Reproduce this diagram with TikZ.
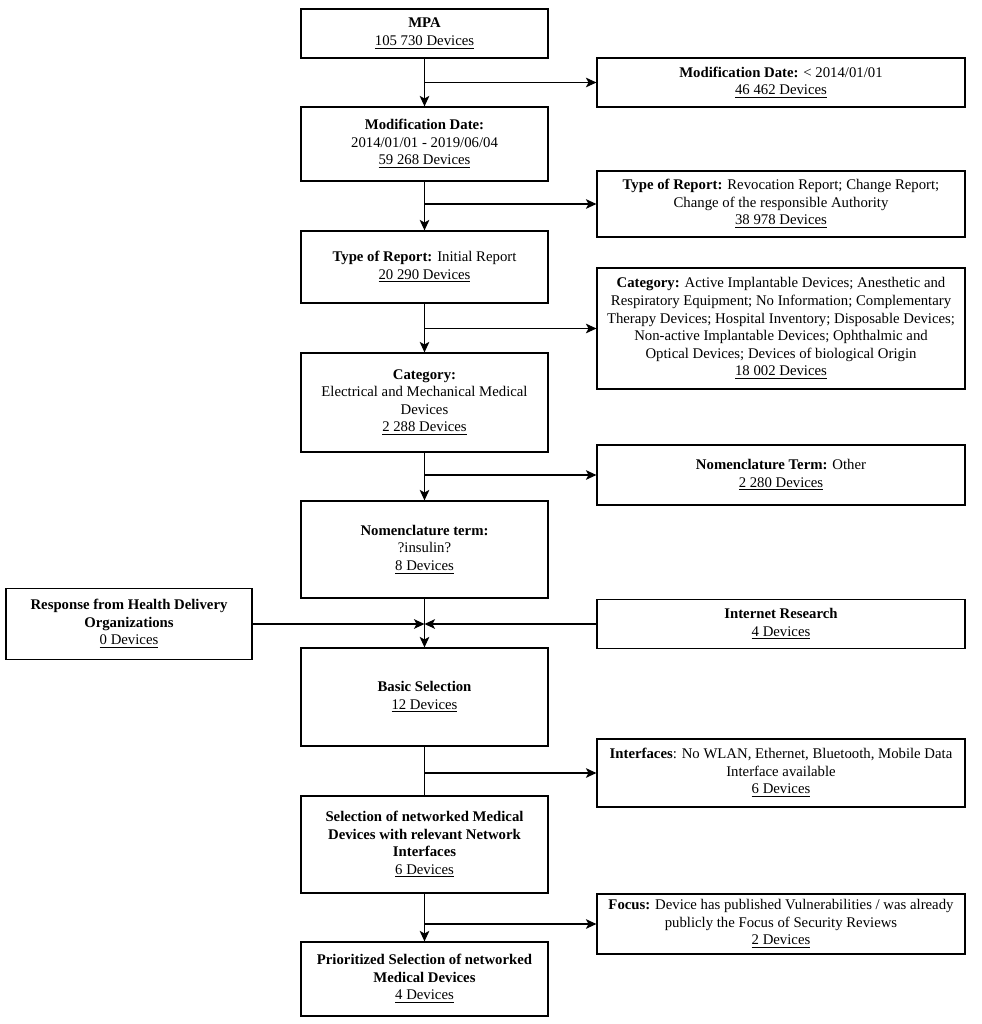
\documentclass[tikz,border=0pt]{standalone}
\usepackage{fontspec}
\setmainfont{Liberation Serif}
\usetikzlibrary{positioning, calc, arrows.meta}
\tikzset{
  box/.style={draw, line width=0.7pt, align=center, inner sep=0pt,
    font=\fontsize{8.4}{10}\selectfont},
  mainbox/.style={box, minimum width=4.94cm},
  sidebox/.style={box, minimum width=7.36cm},
  flow/.style={line width=0.7pt, -{Stealth[length=6pt, width=5.5pt, inset=1.5pt]}},
  plain/.style={line width=0.7pt}
}
\begin{document}
\begin{tikzpicture}[x=0.02cm, y=-0.02cm]
        \useasboundingbox (0,0) rectangle (982,1024);
        % nodes
        \node[mainbox, minimum height=0.98cm] (mpa)      at (424.5, 33.5) {\textbf{MPA}\\\underline{105 730 Devices}};
        \node[mainbox, minimum height=1.48cm] (moddate)  at (424.5, 144) {\textbf{Modification Date:}\\2014/01/01 - 2019/06/04\\\underline{59 268 Devices}};
        \node[mainbox, minimum height=1.44cm] (report)   at (424.5, 267) {\textbf{Type of Report:} Initial Report\\\underline{20 290 Devices}};
        \node[mainbox, minimum height=1.98cm] (category) at (424.5, 402.5) {\textbf{Category:}\\Electrical and Mechanical Medical\\Devices\\\underline{2 288 Devices}};
        \node[mainbox, minimum height=1.94cm] (nomen)    at (424.5, 549.5) {\textbf{Nomenclature term:}\\?insulin?\\\underline{8 Devices}};
        \node[mainbox, minimum height=1.96cm] (basic)    at (424.5, 697) {\textbf{Basic Selection}\\\underline{12 Devices}};
        \node[mainbox, minimum height=1.94cm] (netsel)   at (424.5, 844.5) {\textbf{Selection of networked Medical}\\\textbf{Devices with relevant Network}\\\textbf{Interfaces}\\\underline{6 Devices}};
        \node[mainbox, minimum height=1.48cm] (prio)     at (424.5, 979) {\textbf{Prioritized Selection of networked}\\\textbf{Medical Devices}\\\underline{4 Devices}};
        \node[sidebox, minimum height=0.98cm] (olddate)  at (781, 82.5) {\textbf{Modification Date:} < 2014/01/01\\\underline{46 462 Devices}};
        \node[sidebox, minimum height=1.32cm] (revoc)    at (781, 204) {\textbf{Type of Report:} Revocation Report; Change Report;\\Change of the responsible Authority\\\underline{38 978 Devices}};
        \node[sidebox, minimum height=2.42cm] (othercat) at (781, 328.5) {\textbf{Category:} Active Implantable Devices; Anesthetic and\\Respiratory Equipment; No Information; Complementary\\Therapy Devices; Hospital Inventory; Disposable Devices;\\Non-active Implantable Devices; Ophthalmic and\\Optical Devices; Devices of biological Origin\\\underline{18 002 Devices}};
        \node[sidebox, minimum height=1.2cm]  (othernom) at (781, 475) {\textbf{Nomenclature Term:} Other\\\underline{2 280 Devices}};
        \node[sidebox, minimum height=0.98cm] (internet) at (781, 624) {\textbf{Internet Research}\\\underline{4 Devices}};
        \node[sidebox, minimum height=1.36cm] (nointerf) at (781, 773) {\textbf{Interfaces}: No WLAN, Ethernet, Bluetooth, Mobile Data\\Interface available\\\underline{6 Devices}};
        \node[sidebox, minimum height=1.2cm]  (focus)    at (781, 924) {\textbf{Focus:} Device has published Vulnerabilities / was already\\publicly the Focus of Security Reviews\\\underline{2 Devices}};
        \node[box, minimum width=4.92cm, minimum height=1.42cm] (response) at (129, 624) {\textbf{Response from Health Delivery}\\\textbf{Organizations}\\\underline{0 Devices}};
        % arrows
        \draw[flow]  (mpa)      -- (moddate);
        \draw[flow]  (moddate)  -- (report);
        \draw[flow]  (report)   -- (category);
        \draw[flow]  (category) -- (nomen);
        \draw[flow]  (nomen)    -- (basic);
        \draw[plain] (basic)    -- (netsel);
        \draw[flow]  (netsel)   -- (prio);
        \draw[flow]  (mpa.south      |- olddate.west)  -- (olddate.west);
        \draw[flow]  (moddate.south  |- revoc.west)    -- (revoc.west);
        \draw[flow]  (report.south   |- othercat.west) -- (othercat.west);
        \draw[flow]  (category.south |- othernom.west) -- (othernom.west);
        \draw[flow]  (basic.south    |- nointerf.west) -- (nointerf.west);
        \draw[flow]  (netsel.south   |- focus.west)    -- (focus.west);
        \draw[flow]  (response.east) -- (response.east -| nomen.south);
        \draw[flow]  (internet.west) -- (internet.west -| nomen.south);
\end{tikzpicture}
\end{document}
